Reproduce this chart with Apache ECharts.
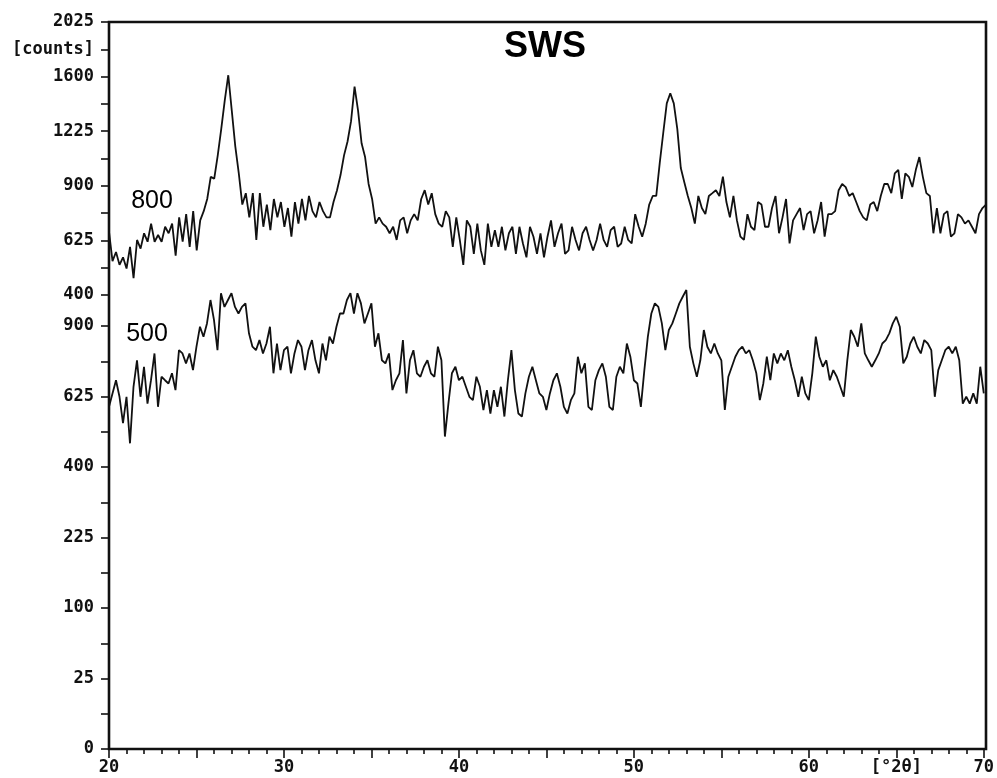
<!DOCTYPE html>
<html>
<head>
<meta charset="utf-8">
<script src="https://cdn.jsdelivr.net/npm/echarts@6/dist/echarts.min.js"></script>
<style>
  html, body { margin: 0; padding: 0; background: #fff; }
  #chart { width: 997px; height: 778px; }
</style>
</head>
<body>
<div id="chart"></div>
<script>
// Scan grid (degrees 2-theta)
const scanStart = 20;
const scanStep = 0.2;

// Intensity, sample annealed at 800 (counts)
const counts800 = [
  666, 534, 573, 518, 550, 503, 596, 464, 627, 588,
  658, 619, 704, 619, 650, 619, 689, 658, 704, 557,
  735, 619, 751, 596, 766, 580, 720, 766, 829, 950,
  940, 1075, 1240, 1430, 1610, 1360, 1130, 970, 800, 860,
  735, 860, 627, 860, 689, 800, 673, 829, 735, 813,
  689, 782, 642, 813, 704, 829, 720, 845, 766, 735,
  813, 766, 735, 735, 813, 876, 960, 1075, 1160, 1290,
  1527, 1360, 1149, 1065, 910, 829, 704, 735, 704, 689,
  658, 689, 627, 720, 735, 658, 720, 751, 720, 829,
  876, 800, 860, 751, 704, 689, 766, 735, 596, 735,
  627, 518, 720, 689, 565, 704, 580, 518, 704, 596,
  673, 596, 689, 580, 658, 689, 565, 689, 611, 550,
  689, 642, 565, 658, 550, 642, 720, 596, 658, 704,
  565, 580, 689, 627, 580, 658, 689, 627, 580, 627,
  704, 627, 596, 673, 689, 596, 611, 689, 627, 611,
  751, 689, 642, 704, 800, 845, 845, 1030, 1215, 1410,
  1480, 1410, 1240, 1000, 920, 845, 782, 704, 845, 782,
  751, 845, 860, 876, 845, 951, 813, 735, 845, 720,
  642, 627, 751, 689, 673, 813, 800, 689, 689, 782,
  845, 658, 735, 829, 611, 720, 751, 782, 673, 751,
  766, 658, 720, 813, 642, 751, 751, 766, 876, 910,
  893, 845, 860, 813, 766, 735, 720, 800, 813, 766,
  845, 910, 910, 860, 970, 990, 829, 970, 950, 893,
  990, 1065, 950, 860, 845, 658, 782, 658, 751, 766,
  642, 658, 751, 735, 704, 720, 689, 658, 751, 782,
  800
];

// Intensity, sample annealed at 500 (counts)
const counts500 = [
  589, 636, 684, 624, 534, 624, 470, 660, 760, 624,
  735, 600, 684, 787, 589, 697, 684, 672, 710, 648,
  800, 787, 748, 787, 722, 814, 897, 855, 911, 1014,
  926, 800, 1045, 983, 1014, 1045, 983, 954, 983, 999,
  869, 814, 800, 841, 787, 827, 897, 710, 827, 722,
  800, 814, 710, 787, 841, 814, 722, 800, 841, 760,
  710, 827, 760, 855, 827, 897, 954, 954, 1014, 1045,
  954, 1045, 999, 911, 954, 999, 814, 869, 760, 748,
  787, 648, 684, 710, 841, 636, 760, 800, 710, 697,
  735, 760, 710, 697, 814, 760, 491, 600, 710, 735,
  684, 697, 660, 624, 612, 697, 660, 578, 648, 566,
  648, 589, 660, 556, 684, 800, 648, 566, 556, 636,
  697, 735, 684, 636, 624, 578, 636, 684, 710, 660,
  589, 566, 612, 636, 774, 710, 748, 589, 578, 684,
  722, 748, 697, 589, 578, 697, 735, 710, 827, 774,
  684, 672, 589, 722, 855, 954, 999, 983, 911, 800,
  883, 911, 954, 999, 1030, 1060, 814, 748, 697, 760,
  883, 814, 787, 827, 787, 760, 578, 697, 735, 774,
  800, 814, 787, 800, 760, 710, 612, 672, 774, 684,
  787, 748, 787, 760, 800, 735, 684, 624, 697, 636,
  612, 710, 855, 774, 735, 760, 684, 722, 697, 660,
  624, 760, 883, 855, 814, 911, 787, 760, 735, 760,
  787, 827, 841, 869, 911, 940, 897, 748, 774, 827,
  855, 814, 787, 841, 827, 800, 624, 722, 760, 800,
  814, 787, 814, 760, 600, 624, 600, 636, 600, 735,
  636
];

// Tick labels
const xTickLabels = [20, 30, 40, 50, 60, 70];
const xUnitLabel = '[°2θ]';
const upperTickLabels = [400, 625, 900, 1225, 1600, 2025];
const lowerTickLabels = [0, 25, 100, 225, 400, 625, 900];
const yUnitLabel = '[counts]';

// Curve annotations
const title = 'SWS';
const curveNames = ['800', '500'];

// Intensity axes use a square-root scale: plot sqrt(counts), label with counts.
const toPairs = (arr) => arr.map((c, i) => [+(scanStart + i * scanStep).toFixed(2), Math.sqrt(c)]);

const labelFont = {
  fontFamily: 'DejaVu Sans Mono',
  fontWeight: 'bold',
  fontSize: 17,
  color: '#111'
};
const tickStyle = { color: '#111', width: 1.6 };

const chart = echarts.init(document.getElementById('chart'), null, { renderer: 'canvas' });

const plotLeft = 109, plotRight = 11;

chart.setOption({
  animation: false,
  backgroundColor: '#fff',
  grid: [
    // outer frame
    { left: plotLeft, right: plotRight, top: 22, bottom: 29, show: true,
      borderColor: '#111', borderWidth: 2.6, backgroundColor: 'transparent' },
    // lower intensity scale (0 .. 900)
    { left: plotLeft, right: plotRight, top: 326, bottom: 29 },
    // upper intensity scale (400 .. 2025)
    { left: plotLeft, right: plotRight, top: 22, bottom: 483 }
  ],
  xAxis: [
    { gridIndex: 0, type: 'value', min: 20, max: 70, show: false },
    {
      gridIndex: 1, type: 'value', min: 20, max: 70, interval: 5,
      axisLine: { show: false },
      axisTick: { show: true, inside: false, length: 9, lineStyle: tickStyle },
      minorTick: { show: true, splitNumber: 5, length: 5, lineStyle: tickStyle },
      splitLine: { show: false },
      minorSplitLine: { show: false },
      axisLabel: Object.assign({}, labelFont, {
        margin: 10,
        showMinLabel: true,
        showMaxLabel: true,
        formatter: (v) => xTickLabels.includes(v) ? String(v) : (v === 65 ? xUnitLabel : '')
      })
    },
    { gridIndex: 2, type: 'value', min: 20, max: 70, show: false }
  ],
  yAxis: [
    { gridIndex: 0, type: 'value', min: 0, max: 1, show: false },
    {
      gridIndex: 1, type: 'value', min: 0, max: 30, interval: 2.5,
      axisLine: { show: false },
      axisTick: { show: true, inside: false, length: 8, lineStyle: tickStyle },
      splitLine: { show: false },
      axisLabel: Object.assign({}, labelFont, {
        margin: 15,
        showMinLabel: true,
        showMaxLabel: true,
        formatter: (v) => {
          const c = Math.round(v * v);
          return (v % 5 === 0 && lowerTickLabels.includes(c)) ? String(c) : '';
        }
      })
    },
    {
      gridIndex: 2, type: 'value', min: 20, max: 45, interval: 2.5,
      axisLine: { show: false },
      axisTick: { show: true, inside: false, length: 8, lineStyle: tickStyle },
      splitLine: { show: false },
      axisLabel: Object.assign({}, labelFont, {
        margin: 15,
        showMinLabel: true,
        showMaxLabel: true,
        formatter: (v) => {
          if (v === 42.5) return yUnitLabel;
          const c = Math.round(v * v);
          return (v % 5 === 0 && upperTickLabels.includes(c)) ? String(c) : '';
        }
      })
    }
  ],
  series: [
    {
      name: curveNames[0], type: 'line', xAxisIndex: 2, yAxisIndex: 2,
      data: toPairs(counts800), showSymbol: false, symbol: 'none', clip: false,
      lineStyle: { color: '#111', width: 1.8 }
    },
    {
      name: curveNames[1], type: 'line', xAxisIndex: 1, yAxisIndex: 1,
      data: toPairs(counts500), showSymbol: false, symbol: 'none', clip: false,
      lineStyle: { color: '#111', width: 1.8 }
    }
  ],
  graphic: [
    { type: 'text', x: 545, y: 47, style: { text: title, font: 'bold 36px "Liberation Sans", Arial, sans-serif', fill: '#000', align: 'center', verticalAlign: 'middle' } },
    { type: 'text', x: 152, y: 201, style: { text: curveNames[0], font: '25px "Liberation Sans", Arial, sans-serif', fill: '#000', align: 'center', verticalAlign: 'middle' } },
    { type: 'text', x: 147, y: 334, style: { text: curveNames[1], font: '25px "Liberation Sans", Arial, sans-serif', fill: '#000', align: 'center', verticalAlign: 'middle' } }
  ]
});
</script>
</body>
</html>
